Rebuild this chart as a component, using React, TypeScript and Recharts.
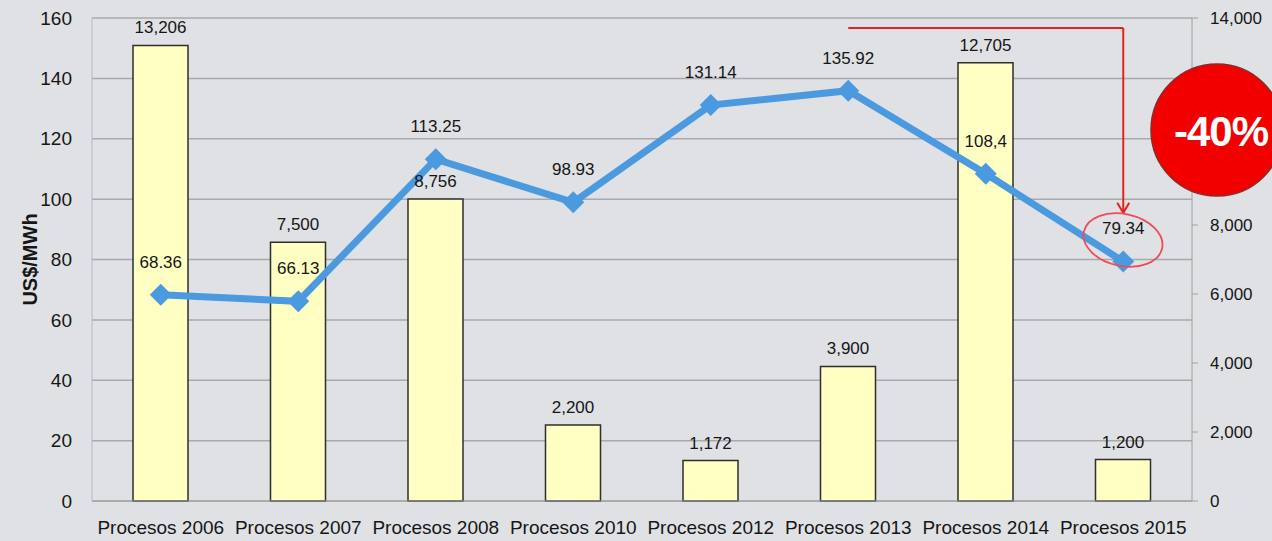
import { ComposedChart, Bar, Line, XAxis, YAxis, CartesianGrid, LabelList, ReferenceLine } from 'recharts';

const categories = [
  'Procesos 2006',
  'Procesos 2007',
  'Procesos 2008',
  'Procesos 2010',
  'Procesos 2012',
  'Procesos 2013',
  'Procesos 2014',
  'Procesos 2015',
];
const prices = [68.36, 66.13, 113.25, 98.93, 131.14, 135.92, 108.4, 79.34];
const priceLabels = ['68.36', '66.13', '113.25', '98.93', '131.14', '135.92', '108,4', '79.34'];
const volumes = [13206, 7500, 8756, 2200, 1172, 3900, 12705, 1200];
const leftTicks = [0, 20, 40, 60, 80, 100, 120, 140, 160];
const rightTicks = [0, 2000, 4000, 6000, 8000, 10000, 12000, 14000];
// these two right-axis labels sit under the "-40%" badge in the original
const coveredRightTicks = [10000, 12000];

const data = categories.map((name, i) => ({
  name,
  price: prices[i],
  priceLabel: priceLabels[i],
  volume: volumes[i],
  volumeLabel: volumes[i].toLocaleString('en-US'),
}));

const FONT = '"Liberation Sans", Arial, sans-serif';
const TEXT = '#161616';

const Diamond = (props: any) => {
  const { cx, cy } = props;
  if (cx == null || cy == null) return null;
  const r = 11;
  return <path d={`M${cx},${cy - r}L${cx + r},${cy}L${cx},${cy + r}L${cx - r},${cy}Z`} fill="#4b9ae0" />;
};

export default function App() {
  return (
    <div style={{ position: 'absolute', left: 0, top: 0, width: 1272, height: 541, background: '#dfe1e4', fontFamily: FONT }}>
      <svg width={0} height={0} style={{ position: 'absolute' }}>
        <defs>
          <marker id="redArrow" markerWidth="14" markerHeight="14" refX="7" refY="12" orient="0" markerUnits="userSpaceOnUse">
            <path d="M1,2 L7,12 L13,2" fill="none" stroke="#e52222" strokeWidth={2} />
          </marker>
        </defs>
      </svg>
      <ComposedChart width={1272} height={541} data={data} margin={{ top: 18, right: 0, bottom: 0, left: 0 }} barCategoryGap="60%">
        <CartesianGrid yAxisId="left" vertical={false} stroke="#a8a9ab" strokeWidth={1.5} />
        <XAxis
          dataKey="name"
          height={40}
          tickLine={false}
          tickSize={6}
          tickMargin={14}
          stroke="#a0a0a0"
          tick={{ fill: TEXT, fontSize: 19, fontFamily: FONT }}
          interval={0}
        />
        <YAxis
          yAxisId="left"
          width={92}
          domain={[0, 160]}
          ticks={leftTicks}
          tickLine={false}
          tickSize={6}
          tickMargin={14}
          stroke="#b8b9bb"
          tick={{ fill: TEXT, fontSize: 19, fontFamily: FONT }}
          label={{ value: 'US$/MWh', angle: -90, position: 'insideLeft', offset: 30, style: { fill: TEXT, fontSize: 20, fontWeight: 'bold', fontFamily: FONT, textAnchor: 'middle' } }}
        />
        <YAxis
          yAxisId="right"
          orientation="right"
          width={80}
          domain={[0, 14000]}
          ticks={rightTicks}
          tickFormatter={(v: number) => (coveredRightTicks.includes(v) ? '' : v.toLocaleString('en-US'))}
          tickSize={6}
          tickMargin={12}
          stroke="#a0a0a0"
          tick={{ fill: TEXT, fontSize: 17, fontFamily: FONT }}
        />
        <Bar yAxisId="right" dataKey="volume" fill="#ffffc4" stroke="#2e2e2e" strokeWidth={1.5} barSize={55} isAnimationActive={false}>
          <LabelList dataKey="volumeLabel" position="top" offset={12} fill={TEXT} fontSize={17} fontFamily={FONT} />
        </Bar>
        <Line
          yAxisId="left"
          dataKey="price"
          stroke="#4b9ae0"
          strokeWidth={7}
          dot={<Diamond />}
          activeDot={false}
          isAnimationActive={false}
        >
          <LabelList dataKey="priceLabel" position="top" offset={27} fill={TEXT} fontSize={17} fontFamily={FONT} />
        </Line>
        <ReferenceLine
          yAxisId="left"
          segment={[{ x: 'Procesos 2013', y: 156.7 }, { x: 'Procesos 2015', y: 156.7 }]}
          stroke="#e52222"
          strokeWidth={2}
          ifOverflow="visible"
        />
        <ReferenceLine
          yAxisId="left"
          segment={[{ x: 'Procesos 2015', y: 156.7 }, { x: 'Procesos 2015', y: 95.5 }]}
          stroke="#e52222"
          strokeWidth={2}
          markerEnd="url(#redArrow)"
          ifOverflow="visible"
        />
      </ComposedChart>
      <svg width={1272} height={541} style={{ position: 'absolute', left: 0, top: 0, pointerEvents: 'none' }}>
        <ellipse cx={1123} cy={240} rx={40} ry={26} transform="rotate(12 1123 240)" fill="none" stroke="#ee4a5a" strokeWidth={1.8} />
        <circle cx={1217} cy={130} r={66} fill="#f20000" stroke="#8a2a2a" strokeWidth={1.5} />
        <text x={1221} y={146} textAnchor="middle" fill="#ffffff" fontSize={42} fontWeight="bold" fontFamily={FONT} letterSpacing={-1}>
          -40%
        </text>
      </svg>
    </div>
  );
}
